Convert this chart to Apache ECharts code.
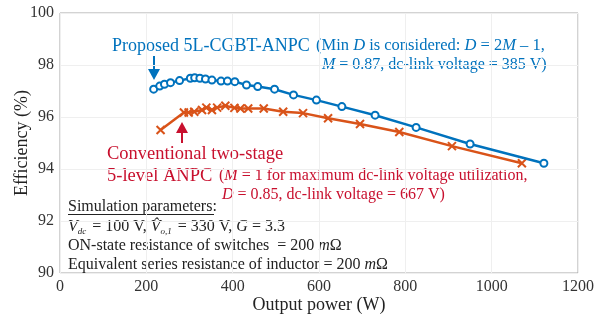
<!DOCTYPE html>
<html>
<head>
<meta charset="UTF-8">
<title>Efficiency vs output power</title>
<script src="https://cdn.jsdelivr.net/npm/echarts@6.0.0/dist/echarts.min.js"></script>
<style>
  html, body { margin: 0; padding: 0; background: #fff; }
  #chart { width: 612px; height: 325px; }
</style>
</head>
<body>
<div id="chart"></div>
<script>
// proposed 5L-CGBT-ANPC
const blueX = [217, 231, 242, 256, 277, 302, 312, 324, 337, 352, 373, 388, 405, 432, 458, 497, 541, 594, 653, 730, 825, 950, 1121];
const blueY = [97.07, 97.19, 97.26, 97.32, 97.40, 97.49, 97.51, 97.49, 97.46, 97.42, 97.38, 97.38, 97.36, 97.23, 97.17, 97.07, 96.85, 96.65, 96.40, 96.07, 95.60, 94.96, 94.22];
// conventional two-stage 5-level ANPC
const orangeX = [233, 287, 298, 311, 329, 339, 352, 364, 383, 404, 418, 436, 472, 517, 563, 621, 695, 786, 908, 1070];
const orangeY = [95.50, 96.17, 96.17, 96.20, 96.27, 96.36, 96.27, 96.36, 96.43, 96.35, 96.33, 96.33, 96.33, 96.20, 96.15, 95.95, 95.73, 95.42, 94.88, 94.22];

const xTicks = [0, 200, 400, 600, 800, 1000, 1200];
const yTicks = [90, 92, 94, 96, 98, 100];

const BLUE = '#0072BD';
const ORANGE = '#D95319';
const RED = '#C8102E';
const INK = '#222';
const FONT = '"Liberation Serif", "DejaVu Serif", serif';

function txt(x, y, text, size, color, extra) {
    // text placed by its vertical middle
    return {
        type: 'text', x: x, y: y,
        style: Object.assign({
            text: text, font: size + 'px ' + FONT, fill: color, verticalAlign: 'middle',
            rich: {
                i: { fontStyle: 'italic', fontSize: size, fontFamily: FONT, fill: color },
                s: { fontStyle: 'italic', fontSize: 9, fontFamily: FONT, fill: color, padding: [9, 2, 0, 0] }
            }
        }, extra || {})
    };
}

const chart = echarts.init(document.getElementById('chart'));

chart.setOption({
    animation: false,
    textStyle: { fontFamily: FONT },
    grid: {
        left: 60, right: 34, top: 13, bottom: 52, outerBoundsMode: 'none',
        show: true, borderColor: '#a6a6a6', borderWidth: 1
    },
    xAxis: {
        type: 'value', min: xTicks[0], max: xTicks[xTicks.length - 1], interval: 200,
        name: 'Output power (W)', nameLocation: 'middle', nameGap: 23, nameMoveOverlap: false,
        nameTextStyle: { fontSize: 18, color: INK, fontFamily: FONT },
        axisLine: { show: false },
        axisTick: { show: false },
        axisLabel: { fontSize: 16, color: '#333', fontFamily: FONT, margin: 6, formatter: v => String(v) },
        splitLine: { lineStyle: { color: '#efefef' } }
    },
    yAxis: {
        type: 'value', min: yTicks[0], max: yTicks[yTicks.length - 1], interval: 2,
        name: 'Efficiency (%)', nameLocation: 'middle', nameGap: 29, nameMoveOverlap: false,
        nameTextStyle: { fontSize: 18, color: INK, fontFamily: FONT },
        axisLine: { show: false },
        axisTick: { show: false },
        axisLabel: { fontSize: 16, color: '#333', fontFamily: FONT, margin: 6, formatter: v => String(v) },
        splitLine: { lineStyle: { color: '#efefef' } }
    },
    series: [
        {
            type: 'line',
            data: blueX.map((x, i) => [x, blueY[i]]),
            symbol: 'emptyCircle', symbolSize: 7,
            lineStyle: { color: BLUE, width: 2.5 },
            itemStyle: { color: BLUE, borderColor: BLUE, borderWidth: 2 },
            z: 3
        },
        {
            type: 'line',
            data: orangeX.map((x, i) => [x, orangeY[i]]),
            symbol: 'path://M0,0L10,10M10,0L0,10', symbolSize: 8,
            lineStyle: { color: ORANGE, width: 2.5 },
            itemStyle: { color: ORANGE, borderColor: ORANGE, borderWidth: 2 },
            z: 2
        }
    ],
    graphic: [
        // blue annotation
        txt(112, 46, 'Proposed 5L-CGBT-ANPC', 18, BLUE),
        txt(316, 46, '(Min {i|D} is considered: {i|D} = 2{i|M} \u2013 1,', 16.5, BLUE),
        txt(322, 65, '{i|M} = 0.87, dc-link voltage = 385 V)', 16, BLUE),
        { type: 'line', shape: { x1: 154, y1: 56, x2: 154, y2: 71 }, style: { stroke: BLUE, lineWidth: 2 } },
        { type: 'polygon', shape: { points: [[148, 69], [160, 69], [154, 80]] }, style: { fill: BLUE } },
        // red annotation
        { type: 'line', shape: { x1: 182, y1: 143, x2: 182, y2: 131 }, style: { stroke: RED, lineWidth: 2 } },
        { type: 'polygon', shape: { points: [[176, 133], [188, 133], [182, 122]] }, style: { fill: RED } },
        txt(107, 154, 'Conventional two-stage', 18.5, RED),
        txt(107, 176, '5-level ANPC', 18.5, RED),
        txt(219, 176, '({i|M} = 1 for maximum dc-link voltage utilization,', 16, RED),
        txt(222, 195, '{i|D} = 0.85, dc-link voltage = 667 V)', 16, RED),
        // simulation parameters
        txt(68, 207, 'Simulation parameters:', 16, INK),
        { type: 'line', shape: { x1: 68, y1: 214.5, x2: 214, y2: 214.5 }, style: { stroke: INK, lineWidth: 1 } },
        txt(68, 227, '{i|V}{s|dc} = 100 V, {i|V\u0302}{s|o,1} = 330 V, {i|G} = 3.3', 16, INK),
        txt(68, 246, 'ON-state resistance of switches  = 200 {i|m}\u03A9', 16, INK),
        txt(68, 265, 'Equivalent series resistance of inductor = 200 {i|m}\u03A9', 16, INK)
    ]
});
</script>
</body>
</html>
